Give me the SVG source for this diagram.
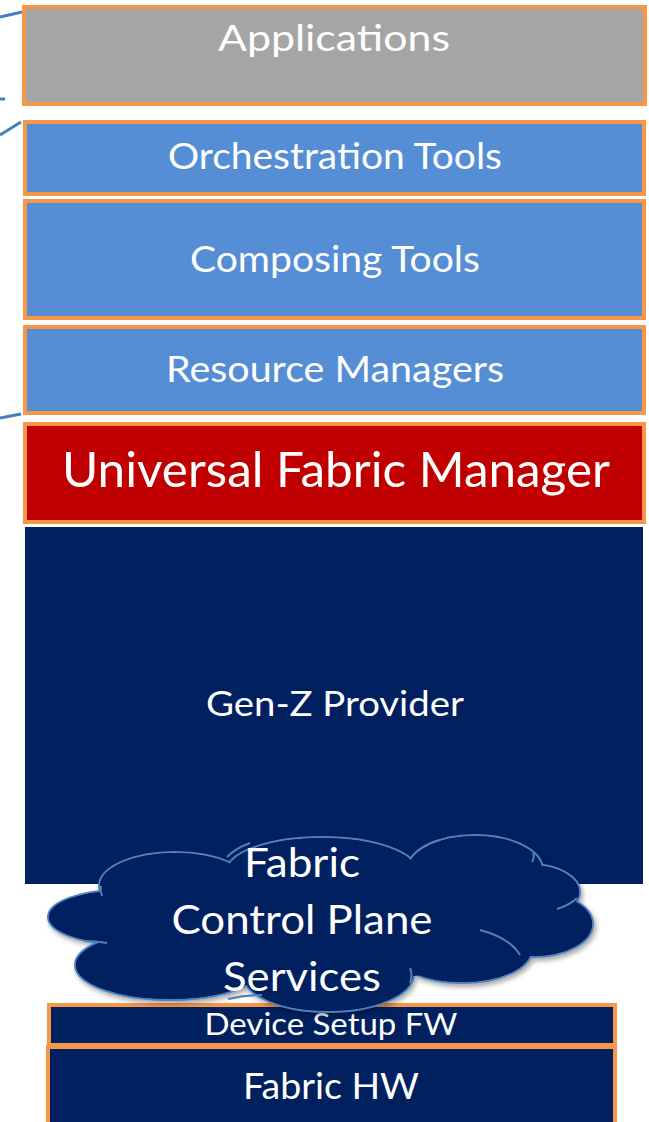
<svg xmlns="http://www.w3.org/2000/svg" width="649" height="1122" viewBox="0 0 649 1122">
  <defs>
    <style>
      .box { stroke: #f79646; stroke-width: 4; }
      .label { font-family: Lato, "Open Sans", sans-serif; fill: #ffffff; text-anchor: middle; }
      .link { stroke: #4a7ebb; stroke-width: 3; fill: none; }
      .puff { fill: #002060; stroke: #4f81bd; stroke-width: 2; }
      .puff-fill { fill: #002060; stroke: none; }
      .fold { fill: none; stroke: #4f81bd; stroke-width: 2; }
    </style>
    <filter id="shadow" x="-10%" y="-10%" width="120%" height="130%">
      <feDropShadow dx="2" dy="3" stdDeviation="2.5" flood-color="#000000" flood-opacity="0.35"/>
    </filter>
  </defs>

  <!-- connectors leaving to the left -->
  <g id="connectors">
    <line class="link" x1="0" y1="17" x2="22" y2="12"/>
    <line class="link" x1="0" y1="99" x2="5" y2="99"/>
    <line class="link" x1="0" y1="135" x2="21" y2="122"/>
    <line class="link" x1="0" y1="418" x2="21" y2="414"/>
  </g>

  <g id="applications">
    <rect class="box" x="24" y="7" width="621" height="97" fill="#a5a5a5"/>
    <text class="label" x="334" y="51" font-size="36" textLength="232" lengthAdjust="spacingAndGlyphs">Applications</text>
  </g>

  <g id="orchestration-tools">
    <rect class="box" x="25" y="122" width="619" height="72" fill="#558ed5"/>
    <text class="label" x="335" y="169" font-size="36" textLength="334" lengthAdjust="spacingAndGlyphs">Orchestration Tools</text>
  </g>

  <g id="composing-tools">
    <rect class="box" x="25" y="201" width="619" height="117" fill="#558ed5"/>
    <text class="label" x="335" y="272" font-size="36" textLength="290" lengthAdjust="spacingAndGlyphs">Composing Tools</text>
  </g>

  <g id="resource-managers">
    <rect class="box" x="25" y="327" width="619" height="86" fill="#558ed5"/>
    <text class="label" x="335" y="382" font-size="36" textLength="338" lengthAdjust="spacingAndGlyphs">Resource Managers</text>
  </g>

  <g id="universal-fabric-manager">
    <rect class="box" x="25" y="424" width="619" height="98" fill="#c00000"/>
    <text class="label" x="336" y="487" font-size="48" textLength="548" lengthAdjust="spacingAndGlyphs">Universal Fabric Manager</text>
  </g>

  <g id="gen-z-provider">
    <rect x="25" y="527" width="618" height="357" fill="#002060"/>
    <text class="label" x="335" y="716" font-size="35" textLength="258" lengthAdjust="spacingAndGlyphs">Gen-Z Provider</text>
  </g>

  <g id="fabric-hw">
    <rect class="box" x="48" y="1047" width="567" height="80" fill="#002060"/>
    <text class="label" x="331" y="1099" font-size="37" textLength="176" lengthAdjust="spacingAndGlyphs">Fabric HW</text>
  </g>

  <g id="device-setup-fw">
    <rect class="box" x="49" y="1005" width="566" height="40" fill="#002060"/>
    <text class="label" x="331" y="1035" font-size="30" textLength="253" lengthAdjust="spacingAndGlyphs">Device Setup FW</text>
  </g>

  <!-- cloud: outlined puffs, then the same puffs unstroked to leave only the outer rim -->
  <g id="fabric-control-plane-services">
    <g filter="url(#shadow)">
      <ellipse class="puff" cx="175" cy="886" rx="76" ry="34"/>
      <ellipse class="puff" cx="322" cy="872" rx="96" ry="35"/>
      <ellipse class="puff" cx="475" cy="870" rx="68" ry="35"/>
      <ellipse class="puff" cx="530" cy="892" rx="50" ry="28"/>
      <ellipse class="puff" cx="533" cy="924" rx="60" ry="33"/>
      <ellipse class="puff" cx="462" cy="950" rx="70" ry="33"/>
      <ellipse class="puff" cx="328" cy="974" rx="86" ry="38"/>
      <ellipse class="puff" cx="170" cy="965" rx="95" ry="35"/>
      <ellipse class="puff" cx="120" cy="917" rx="72" ry="27"/>
    </g>
    <ellipse class="puff-fill" cx="175" cy="886" rx="75" ry="33"/>
    <ellipse class="puff-fill" cx="322" cy="872" rx="95" ry="34"/>
    <ellipse class="puff-fill" cx="475" cy="870" rx="67" ry="34"/>
    <ellipse class="puff-fill" cx="530" cy="892" rx="49" ry="27"/>
    <ellipse class="puff-fill" cx="533" cy="924" rx="59" ry="32"/>
    <ellipse class="puff-fill" cx="462" cy="950" rx="69" ry="32"/>
    <ellipse class="puff-fill" cx="328" cy="974" rx="85" ry="37"/>
    <ellipse class="puff-fill" cx="170" cy="965" rx="94" ry="34"/>
    <ellipse class="puff-fill" cx="120" cy="917" rx="71" ry="26"/>
    <ellipse class="puff-fill" cx="330" cy="920" rx="230" ry="60"/>
    <!-- inner fold lines of the cloud -->
    <path class="fold" d="M 227 857 Q 236 848 250 843"/>
    <path class="fold" d="M 417 851 Q 428 843 440 840"/>
    <path class="fold" d="M 532 862 Q 535 857 533 853"/>
    <path class="fold" d="M 557 909 Q 570 905 577 898"/>
    <path class="fold" d="M 480 930 Q 510 938 520 955"/>
    <path class="fold" d="M 410 983 Q 413 975 410 968"/>
    <path class="fold" d="M 228 999 Q 245 995 262 995"/>
    <path class="fold" d="M 107 943 Q 96 941 84 941"/>
    <path class="fold" d="M 102 896 Q 100 891 101 886"/>
    <text class="label" x="302" y="877" font-size="40" textLength="116" lengthAdjust="spacingAndGlyphs">Fabric</text>
    <text class="label" x="302" y="934" font-size="40" textLength="261" lengthAdjust="spacingAndGlyphs">Control Plane</text>
    <text class="label" x="302" y="991" font-size="40" textLength="158" lengthAdjust="spacingAndGlyphs">Services</text>
  </g>
</svg>
